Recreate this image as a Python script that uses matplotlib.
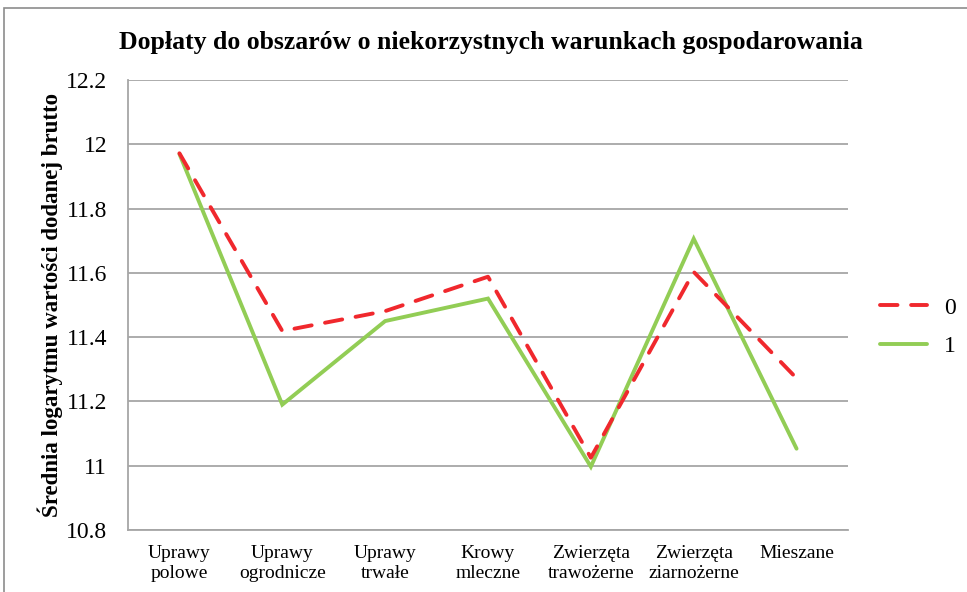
import matplotlib
matplotlib.use("Agg")
import matplotlib.pyplot as plt
from matplotlib.patches import Rectangle
from matplotlib.lines import Line2D

categories = ["Uprawy\npolowe", "Uprawy\nogrodnicze", "Uprawy\ntrwałe", "Krowy\nmleczne",
              "Zwierzęta\ntrawożerne", "Zwierzęta\nziarnożerne", "Mieszane"]
series_0 = [11.972, 11.419, 11.481, 11.588, 11.025, 11.603, 11.272]
series_1 = [11.970, 11.190, 11.450, 11.520, 10.997, 11.706, 11.053]
yticks = [10.8, 11.0, 11.2, 11.4, 11.6, 11.8, 12.0, 12.2]
ytick_labels = ["10.8", "11", "11.2", "11.4", "11.6", "11.8", "12", "12.2"]
title = "Dopłaty do obszarów o niekorzystnych warunkach gospodarowania"
ylabel = "Średnia logarytmu wartości dodanej brutto"

plt.rcParams['font.family'] = ['Liberation Serif', 'DejaVu Serif']

W, H = 967, 592
fig = plt.figure(figsize=(W / 100, H / 100), dpi=100)
fig.patch.set_facecolor("white")

# outer frame
fig.patches.append(Rectangle((4 / W, -0.05), 1.2, 1 - 7.5 / H + 0.05, transform=fig.transFigure,
                             fill=False, edgecolor="#8c8c8c", linewidth=1.2))

ax = fig.add_axes([128 / W, 1 - 530 / H, 720 / W, 450 / H])
x = list(range(len(categories)))
red = "#f0282d"
green = "#92cd55"
ax.plot(x, series_1, color=green, linewidth=2.8, solid_capstyle="round", solid_joinstyle="miter", zorder=3)
ax.plot(x, series_0, color=red, linewidth=2.8, dashes=(4.5, 3.5), dash_capstyle="round", zorder=4)

ax.set_xlim(-0.5, len(categories) - 0.5)
ax.set_ylim(10.8, 12.2)
ax.set_yticks(yticks)
ax.set_yticklabels(ytick_labels, fontsize=17)
ax.set_xticks(x)
ax.set_xticklabels(categories, fontsize=14, linespacing=1.2)
ax.tick_params(axis="x", length=0, pad=11)
ax.tick_params(axis="y", length=0, pad=15)
ax.grid(axis="y", color="#a6a6a6", linewidth=1.3)
ax.set_axisbelow(True)
for s in ["top", "right"]:
    ax.spines[s].set_visible(False)
for s in ["left", "bottom"]:
    ax.spines[s].set_color("#a6a6a6")
    ax.spines[s].set_linewidth(1.3)

ax.set_ylabel(ylabel, fontsize=16.5, fontweight="bold", labelpad=2)
fig.text(491 / W, 1 - 42 / H, title, fontsize=18.5, fontweight="bold", ha="center", va="center")

# legend
handles = [Line2D([], [], color=red, linewidth=2.8, dashes=(4.5, 3.5), dash_capstyle="round"),
           Line2D([], [], color=green, linewidth=2.8, solid_capstyle="round")]
fig.legend(handles, ["0", "1"], loc="center left", bbox_to_anchor=(880 / W, 1 - 327 / H),
           frameon=False, fontsize=17, handlelength=2.0, labelspacing=0.7, handletextpad=0.7,
           borderpad=0, borderaxespad=0)

fig.savefig("out.png", dpi=100, facecolor="white")
